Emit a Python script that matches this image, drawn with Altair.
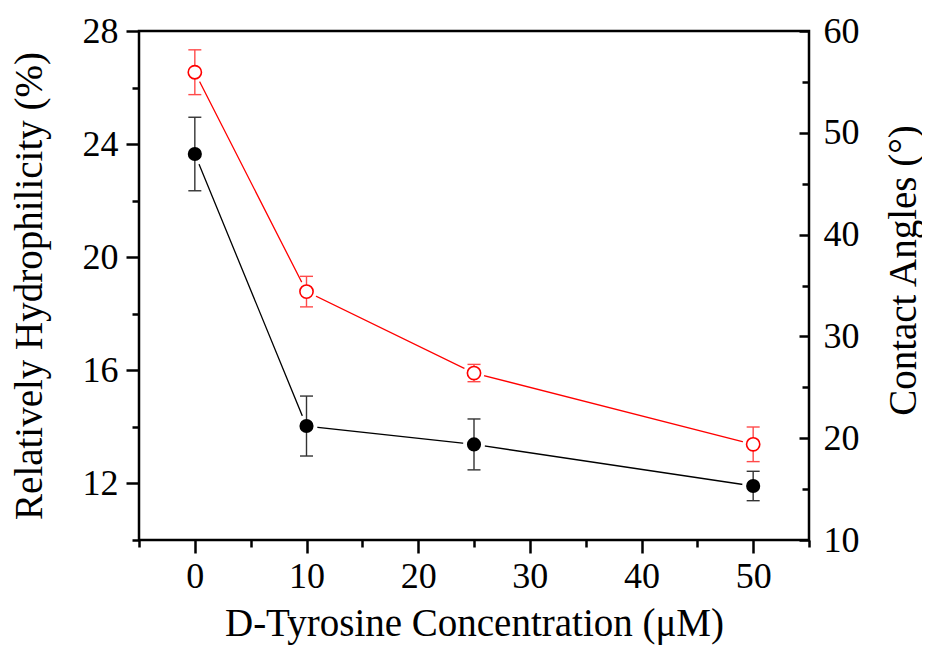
import altair as alt
import pandas as pd

# ---- data ----
conc = [0, 10, 25, 50]
hydro = [23.65, 14.03, 13.38, 11.91]
hydro_err = [1.30, 1.06, 0.90, 0.52]
angle = [55.95, 34.4, 26.4, 19.4]
angle_err = [2.2, 1.5, 0.85, 1.7]

x_ticks = list(range(-5, 56, 5))
left_ticks = list(range(10, 29, 2))
right_major = list(range(10, 61, 10))
right_minor = list(range(15, 60, 10))

df_b = pd.DataFrame({
    "x": conc, "y": hydro,
    "lo": [v - e for v, e in zip(hydro, hydro_err)],
    "hi": [v + e for v, e in zip(hydro, hydro_err)],
})
df_r = pd.DataFrame({
    "x": conc, "y": angle,
    "lo": [v - e for v, e in zip(angle, angle_err)],
    "hi": [v + e for v, e in zip(angle, angle_err)],
})

FONT = "Liberation Serif"
FS = 36
TFS = 39
common = dict(labelFont=FONT, titleFont=FONT, labelFontSize=FS, titleFontSize=TFS,
              labelColor="black", titleColor="black", titleFontWeight="normal",
              grid=False, domain=False, tickColor="black", tickWidth=2.5)

xscale = alt.Scale(domain=[-5, 55], nice=False, zero=False)
xaxis = alt.Axis(title="D-Tyrosine Concentration (μM)", values=x_ticks,
                 labelExpr="datum.value % 10 == 0 ? datum.label : ''",
                 tickSize={"condition": {"test": "datum.value % 10 == 0", "value": 13}, "value": 7},
                 labelPadding=6, titlePadding=10, labelFlush=False, labelOverlap=False, **common)
X = alt.X("x:Q", scale=xscale, axis=xaxis)

# left (black, hydrophilicity)
yl_scale = alt.Scale(domain=[10, 28], nice=False, zero=False)
yl_axis = alt.Axis(title="Relatively Hydrophilicity (%)", orient="left", values=left_ticks,
                   labelExpr="datum.value % 4 == 0 ? datum.label : ''",
                   tickSize={"condition": {"test": "datum.value % 4 == 0", "value": 13}, "value": 7},
                   labelPadding=8, titlePadding=33, labelFlush=False, labelOverlap=False, **common)

def YL(f):
    return alt.Y(f"{f}:Q", scale=yl_scale, axis=yl_axis)

line_b = alt.Chart(df_b).mark_line(color="black", strokeWidth=1.3).encode(x=X, y=YL("y"))
halo_b = alt.Chart(df_b).mark_circle(color="white", size=480, opacity=1).encode(x=X, y=YL("y"))
err_b = alt.Chart(df_b).mark_rule(color="#333333", strokeWidth=1.4).encode(x=X, y=YL("lo"), y2="hi:Q")
caplo_b = alt.Chart(df_b).mark_tick(orient="horizontal", size=13, thickness=1.4, color="#333333", opacity=1).encode(x=X, y=YL("lo"))
caphi_b = alt.Chart(df_b).mark_tick(orient="horizontal", size=13, thickness=1.4, color="#333333", opacity=1).encode(x=X, y=YL("hi"))
pt_b = alt.Chart(df_b).mark_circle(color="black", size=200, opacity=1).encode(x=X, y=YL("y"))
left = alt.layer(line_b, halo_b, err_b, caplo_b, caphi_b, pt_b)

# right (red, contact angle)
yr_scale = alt.Scale(domain=[10, 60], nice=False, zero=False)
yr_axis = alt.Axis(title="Contact Angles (°)", orient="right", values=right_major,
                   tickSize=10, offset=-10, labelPadding=14, titlePadding=64, titleAngle=270,
                   titleY=239, labelFlush=False, labelOverlap=False, **common)

def YR(f):
    return alt.Y(f"{f}:Q", scale=yr_scale, axis=yr_axis)

RED = "#ff0000"
ERED = "#ff4a4a"
line_r = alt.Chart(df_r).mark_line(color=RED, strokeWidth=1.3).encode(x=X, y=YR("y"))
halo_r = alt.Chart(df_r).mark_circle(color="white", size=450, opacity=1).encode(x=X, y=YR("y"))
err_r = alt.Chart(df_r).mark_rule(color=ERED, strokeWidth=1.4).encode(x=X, y=YR("lo"), y2="hi:Q")
caplo_r = alt.Chart(df_r).mark_tick(orient="horizontal", size=13, thickness=1.4, color=ERED, opacity=1).encode(x=X, y=YR("lo"))
caphi_r = alt.Chart(df_r).mark_tick(orient="horizontal", size=13, thickness=1.4, color=ERED, opacity=1).encode(x=X, y=YR("hi"))
pt_r = alt.Chart(df_r).mark_circle(fill="white", stroke=RED, strokeWidth=1.6, size=175, opacity=1, fillOpacity=1).encode(x=X, y=YR("y"))
right = alt.layer(line_r, halo_r, err_r, caplo_r, caphi_r, pt_r)

# extra axis carrying the short inward minor ticks of the right side
minor_axis = alt.Axis(title="", orient="right", values=right_minor, tickSize=7, offset=-7,
                      labels=False, **common)
minor = alt.Chart(df_r).mark_point(opacity=0).encode(
    x=X, y=alt.Y("y:Q", scale=yr_scale, axis=minor_axis))

chart = alt.layer(left, right, minor).resolve_scale(y="independent").properties(
    width=670, height=509,
    autosize=alt.AutoSizeParams(type="none"),
    padding={"left": 131, "top": 23, "right": 113, "bottom": 105},
    background="white",
).configure_view(stroke="black", strokeWidth=2.5)

chart.save("out.html", embed_options={"renderer": "svg", "actions": False})
